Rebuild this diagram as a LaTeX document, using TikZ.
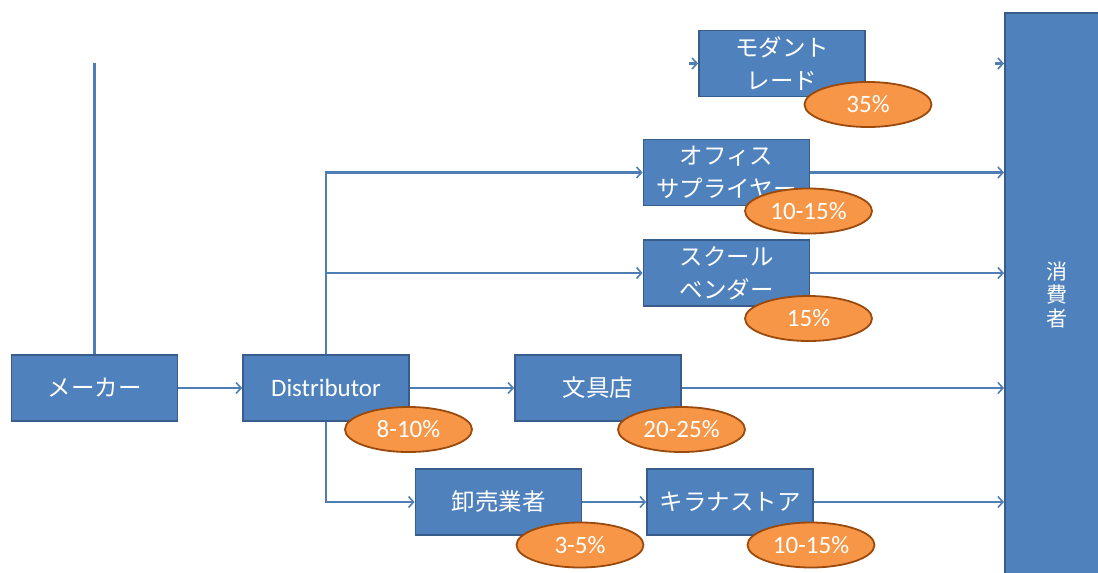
\documentclass[tikz,border=0pt]{standalone}
\usepackage{fontspec}
\setmainfont{Carlito}
\newfontfamily\jp{Noto Sans CJK JP}
\usetikzlibrary{shapes.geometric,arrows.meta,backgrounds}
\definecolor{boxfill}{HTML}{4F81BD}
\definecolor{boxline}{HTML}{385D8A}
\definecolor{conn}{HTML}{4F7DB6}
\definecolor{ovfill}{HTML}{F79646}
\definecolor{ovline}{HTML}{9A4A0C}
\tikzset{
  box/.style={draw=boxline, line width=1.8pt, fill=boxfill, text=white,
    minimum width=166pt, minimum height=66pt, inner sep=2pt, align=center,
    font=\fontsize{25}{33}\selectfont},
  jbox/.style={box, font=\jp\fontsize{23.5}{33}\selectfont},
  oval/.style={ellipse, draw=ovline, line width=1.8pt, fill=ovfill, text=white,
    minimum width=127pt, minimum height=45pt, inner sep=0pt,
    font=\fontsize{25}{28}\selectfont},
  conline/.style={draw=conn, line width=2.2pt},
  arr/.style={conline, -{Straight Barb[length=5pt,width=11pt,line width=1.6pt]}},
}
\begin{document}
\begin{tikzpicture}[x=1pt,y=-1pt]
\useasboundingbox (0,0) rectangle (1098,573);
\clip (0,0) rectangle (1098,573);
% consumer column
\node[box, minimum width=100pt, minimum height=570pt, anchor=north west] (cons) at (1004,12) {};
\node[text=white, align=center, font=\jp\fontsize{21}{23.5}\selectfont, inner sep=0pt] (consl) at (1057,295) {消\\費\\者};
% boxes
\node[jbox] (mk) at (94.5,388) {メーカー};
\node[box] (dist) at (326,388) {Distributor};
\node[jbox] (mod) at (782,63.5) {モダント\\レード};
\node[jbox] (off) at (726.5,172.5) {オフィス\\サプライヤー};
\node[jbox] (sch) at (726.5,273) {スクール\\ベンダー};
\node[jbox] (bun) at (598,388) {文具店};
\node[jbox] (whl) at (498.5,502) {卸売業者};
\node[jbox] (kir) at (730,502) {キラナストア};
% ovals
\node[oval] (o1) at (868,104.5) {35\%};
\node[oval] (o2) at (808.5,211) {10-15\%};
\node[oval] (o3) at (808.5,318.5) {15\%};
\node[oval] (o4) at (408.5,429.5) {8-10\%};
\node[oval] (o5) at (681.5,429.5) {20-25\%};
\node[oval] (o6) at (580,545) {3-5\%};
\node[oval] (o7) at (811,545) {10-15\%};
% coordinates
\coordinate (top) at (94.5,63);
\coordinate (m1) at (689,63.5);
\coordinate (m2) at (995,63.5);
\begin{scope}[on background layer]
\draw[conline, line width=2.8pt] (mk.north) -- (top);
\draw[arr] (m1) -- (mod.west);
\draw[arr] (m2) -- (m2 -| cons.west);
\draw[arr] (mk.east) -- (dist.west);
\draw[arr] (dist.north) |- (off.west);
\draw[arr] (dist.north) |- (sch.west);
\draw[arr] (dist.east) -- (bun.west);
\draw[arr] (dist.south) |- (whl.west);
\draw[arr] (whl.east) -- (kir.west);
\draw[arr] (off.east) -- (off.east -| cons.west);
\draw[arr] (sch.east) -- (sch.east -| cons.west);
\draw[arr] (bun.east) -- (bun.east -| cons.west);
\draw[arr] (kir.east) -- (kir.east -| cons.west);
\end{scope}
\end{tikzpicture}
\end{document}
